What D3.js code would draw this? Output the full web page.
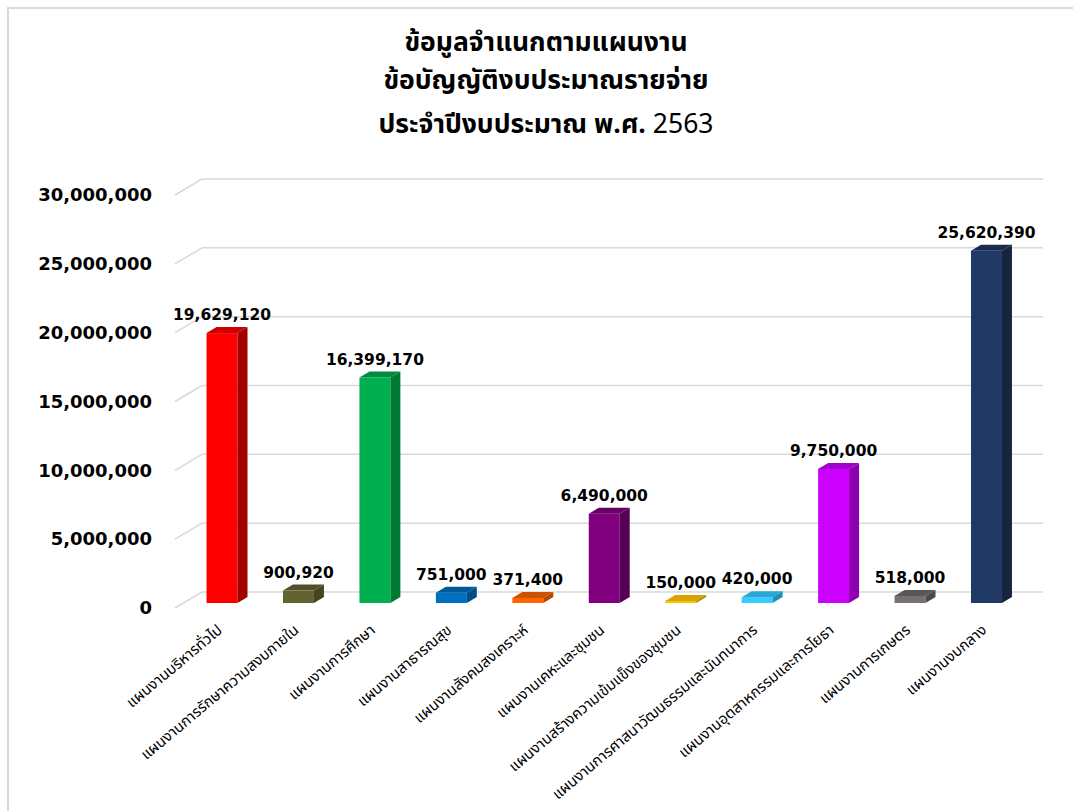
<!DOCTYPE html>
<html>
<head>
<meta charset="utf-8">
<script src="https://cdn.jsdelivr.net/npm/d3@7"></script>
<style>
  html, body { margin: 0; padding: 0; background: #fff; }
  svg { display: block; }
  .thai { font-family: Tahoma, "Noto Sans Thai", "Leelawadee UI", Garuda, Loma, "Noto Sans", sans-serif; }
</style>
</head>
<body>
<svg id="chart" width="1073" height="811"></svg>
<script>
const titleLines = ["ข้อมูลจำแนกตามแผนงาน", "ข้อบัญญัติงบประมาณรายจ่าย", "ประจำปีงบประมาณ พ.ศ. ", "2563"];
const categories = [
  "แผนงานบริหารทั่วไป",
  "แผนงานการรักษาความสงบภายใน",
  "แผนงานการศึกษา",
  "แผนงานสาธารณสุข",
  "แผนงานสังคมสงเคราะห์",
  "แผนงานเคหะและชุมชน",
  "แผนงานสร้างความเข้มแข็งของชุมชน",
  "แผนงานการศาสนาวัฒนธรรมและนันทนาการ",
  "แผนงานอุตสาหกรรมและการโยธา",
  "แผนงานการเกษตร",
  "แผนงานงบกลาง"
];
const values = [19629120, 900920, 16399170, 751000, 371400, 6490000, 150000, 420000, 9750000, 518000, 25620390];
const frontColors = ["#FF0000", "#636332", "#00B050", "#0070C0", "#FF6600", "#800080", "#FFC000", "#33CCFF", "#CC00FF", "#767171", "#203864"];
const topColors   = ["#CC0000", "#4F4F28", "#008C40", "#005A9A", "#CC5200", "#660066", "#D9A300", "#28A8D6", "#A300CC", "#5A5656", "#1A2D50"];
const sideColors  = ["#A00000", "#44441F", "#007A33", "#004E86", "#B34700", "#550055", "#B38600", "#1F8FB3", "#8F00B3", "#4D4949", "#16243F"];
const tickValues = [0, 5000000, 10000000, 15000000, 20000000, 25000000, 30000000];

const svg = d3.select("#chart");
const fmt = d3.format(",");

// frame
svg.append("rect").attr("x", 8).attr("y", 8).attr("width", 1200).attr("height", 1000)
  .attr("fill", "#fff").attr("stroke", "#d9d9d9").attr("stroke-width", 2);

// title
const title = svg.append("text").attr("class", "thai").attr("text-anchor", "middle")
  .attr("font-size", 26.5).attr("font-weight", "bold").attr("fill", "#000");
title.append("tspan").attr("x", 546).attr("y", 51).text(titleLines[0]);
title.append("tspan").attr("x", 546).attr("y", 89).text(titleLines[1]);
const l3 = title.append("tspan").attr("x", 546).attr("y", 133);
l3.append("tspan").text(titleLines[2]);
l3.append("tspan").attr("font-weight", "normal").text(titleLines[3]);

// scales
const yBack = d3.scaleLinear().domain([0, 30000000]).range([592, 179]);
const yFront = d3.scaleLinear().domain([0, 30000000]).range([603, 190.5]);
const x = d3.scaleBand().domain(categories).range([183.8, 1024.7])
  .paddingInner(0.595).paddingOuter(0.2975);
const bw = x.bandwidth();
const dx = 10, dy = 6;
const depthX = 27, depthY = 16;

// gridlines (back wall + side diagonal)
const grid = svg.append("g");
tickValues.forEach(t => {
  const yb = yBack(t);
  grid.append("line").attr("x1", 202).attr("x2", 1043).attr("y1", yb).attr("y2", yb)
    .attr("stroke", "#d9d9d9").attr("stroke-width", 1.5);
  grid.append("line").attr("x1", 175).attr("y1", yb + depthY).attr("x2", 202).attr("y2", yb)
    .attr("stroke", "#d9d9d9").attr("stroke-width", 1.5);
});

// y-axis labels via d3 axis
const yAxisScale = d3.scaleLinear().domain([0, 30000000]).range([592 + depthY, 179 + depthY]);
const yAxis = svg.append("g").attr("transform", "translate(160,0)")
  .call(d3.axisLeft(yAxisScale).tickValues(tickValues).tickFormat(fmt).tickSize(0).tickPadding(8));
yAxis.select(".domain").remove();
yAxis.selectAll("text").attr("font-family", "DejaVu Sans, Verdana, sans-serif")
  .attr("font-weight", "bold").attr("font-size", 18).attr("fill", "#000");

// bars
const bars = svg.append("g");
categories.forEach((c, i) => {
  const x0 = x(c), x1 = x0 + bw;
  const yt = yFront(values[i]), y0 = yFront(0);
  bars.append("rect").attr("x", x0).attr("y", yt).attr("width", bw).attr("height", y0 - yt)
    .attr("fill", frontColors[i]);
  bars.append("path")
    .attr("d", `M${x0},${yt}L${x0 + dx},${yt - dy}L${x1 + dx},${yt - dy}L${x1},${yt}Z`)
    .attr("fill", topColors[i]);
  bars.append("path")
    .attr("d", `M${x1},${yt}L${x1 + dx},${yt - dy}L${x1 + dx},${y0 - dy}L${x1},${y0}Z`)
    .attr("fill", sideColors[i]);
  bars.append("text")
    .attr("x", x0 + bw / 2).attr("y", yt - dy - 7)
    .attr("text-anchor", "middle")
    .attr("font-family", "DejaVu Sans, Verdana, sans-serif")
    .attr("font-weight", "bold").attr("font-size", 15.5).attr("fill", "#000")
    .text(fmt(values[i]));
});

// category labels
const xl = svg.append("g");
categories.forEach(c => {
  const cx = x(c) + bw / 2;
  xl.append("text").attr("class", "thai")
    .attr("transform", `translate(${cx - 6},${623}) rotate(-40)`)
    .attr("text-anchor", "end").attr("dy", "0.75em")
    .attr("font-size", 15).attr("fill", "#000")
    .text(c);
});
</script>
</body>
</html>
